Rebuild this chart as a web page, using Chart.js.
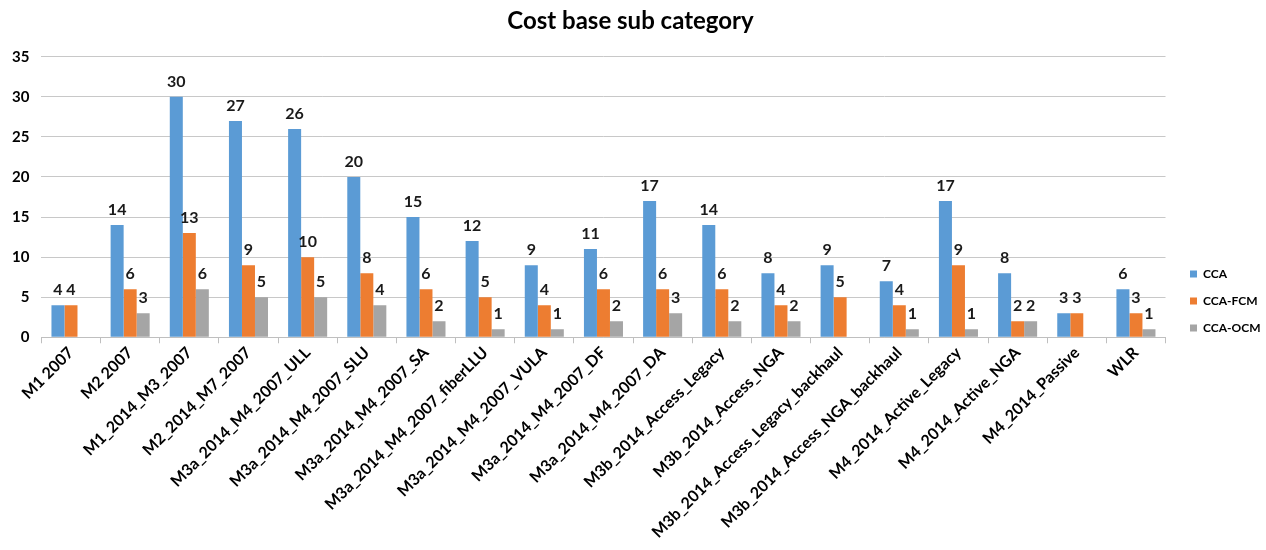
<!DOCTYPE html>
<html>
<head>
<meta charset="utf-8">
<script src="https://cdn.jsdelivr.net/npm/chart.js@4/dist/chart.umd.min.js"></script>
<style>
  html, body { margin: 0; padding: 0; background: #ffffff; }
  #wrap { width: 1266px; height: 550px; position: relative; }
</style>
</head>
<body>
<div id="wrap"><canvas id="chart" width="1266" height="550"></canvas></div>
<script>
// Cost base sub-categories and counts per series
const categories = [
  "M1 2007", "M2 2007", "M1_2014_M3_2007", "M2_2014_M7_2007",
  "M3a_2014_M4_2007_ULL", "M3a_2014_M4_2007_SLU", "M3a_2014_M4_2007_SA",
  "M3a_2014_M4_2007_fiberLLU", "M3a_2014_M4_2007_VULA", "M3a_2014_M4_2007_DF",
  "M3a_2014_M4_2007_DA", "M3b_2014_Access_Legacy", "M3b_2014_Access_NGA",
  "M3b_2014_Access_Legacy_backhaul", "M3b_2014_Access_NGA_backhaul",
  "M4_2014_Active_Legacy", "M4_2014_Active_NGA", "M4_2014_Passive", "WLR"
];
const ccaValues = [4, 14, 30, 27, 26, 20, 15, 12, 9, 11, 17, 14, 8, 9, 7, 17, 8, 3, 6];
const ccaFcmValues = [4, 6, 13, 9, 10, 8, 6, 5, 4, 6, 6, 6, 4, 5, 4, 9, 2, 3, 3];
const ccaOcmValues = [null, 3, 6, 5, 5, 4, 2, 1, 1, 2, 3, 2, 2, null, 1, 1, 2, null, 1];
const yTicks = [0, 5, 10, 15, 20, 25, 30, 35];

const FONT = "Lato, 'Open Sans', sans-serif";

// Writes each bar's value just above it
const valueLabels = {
  id: "valueLabels",
  afterDatasetsDraw(chart) {
    const ctx = chart.ctx;
    ctx.save();
    ctx.font = "bold 16px " + FONT;
    ctx.fillStyle = "#1a1a1a";
    ctx.textAlign = "center";
    ctx.textBaseline = "bottom";
    chart.data.datasets.forEach((ds, i) => {
      const meta = chart.getDatasetMeta(i);
      meta.data.forEach((bar, j) => {
        const v = ds.data[j];
        if (v === null || v === undefined) return;
        ctx.fillText(String(v), bar.x, bar.y - 7);
      });
    });
    ctx.restore();
  }
};

// Places the legend block beside the lower half of the plot
const legendPlacement = {
  id: "legendPlacement",
  afterLayout(chart) {
    const lg = chart.legend;
    if (!lg) return;
    const w = lg.right - lg.left;
    lg.left = 1175;
    lg.right = lg.left + w;
    lg.top += 29;
    lg.bottom += 29;
  }
};

new Chart(document.getElementById("chart"), {
  type: "bar",
  data: {
    labels: categories,
    datasets: [
      { label: "CCA", data: ccaValues, backgroundColor: "#5B9BD5" },
      { label: "CCA-FCM", data: ccaFcmValues, backgroundColor: "#ED7D31" },
      { label: "CCA-OCM", data: ccaOcmValues, backgroundColor: "#A5A5A5" }
    ]
  },
  options: {
    responsive: false,
    animation: false,
    layout: { padding: { left: 0, right: 5, top: 2, bottom: 8 } },
    datasets: {
      bar: { categoryPercentage: 0.66, barPercentage: 1.0 }
    },
    plugins: {
      title: {
        display: true,
        text: "Cost base sub category",
        color: "#000000",
        font: { family: FONT, size: 24, weight: "bold" },
        padding: { top: 5, bottom: 21 }
      },
      legend: {
        position: "right",
        labels: {
          boxWidth: 7,
          boxHeight: 7,
          padding: 15,
          color: "#000000",
          font: { family: FONT, size: 12, weight: "bold" }
        }
      },
      tooltip: { enabled: false }
    },
    scales: {
      x: {
        grid: {
          display: true,
          drawOnChartArea: false,
          drawTicks: true,
          tickLength: 6,
          color: "#BFBFBF"
        },
        border: { color: "#BFBFBF" },
        ticks: {
          color: "#000000",
          font: { family: FONT, size: 16, weight: "bold" },
          minRotation: 45,
          maxRotation: 45,
          autoSkip: false,
          padding: 0
        }
      },
      y: {
        min: 0,
        max: 35,
        afterBuildTicks(axis) {
          axis.ticks = yTicks.map(v => ({ value: v }));
        },
        grid: {
          color: "#C8C8C8",
          drawTicks: false,
          lineWidth: 1
        },
        border: { display: false },
        ticks: {
          color: "#000000",
          padding: 12,
          font: { family: FONT, size: 15, weight: "bold" }
        }
      }
    }
  },
  plugins: [valueLabels, legendPlacement]
});
</script>
</body>
</html>
